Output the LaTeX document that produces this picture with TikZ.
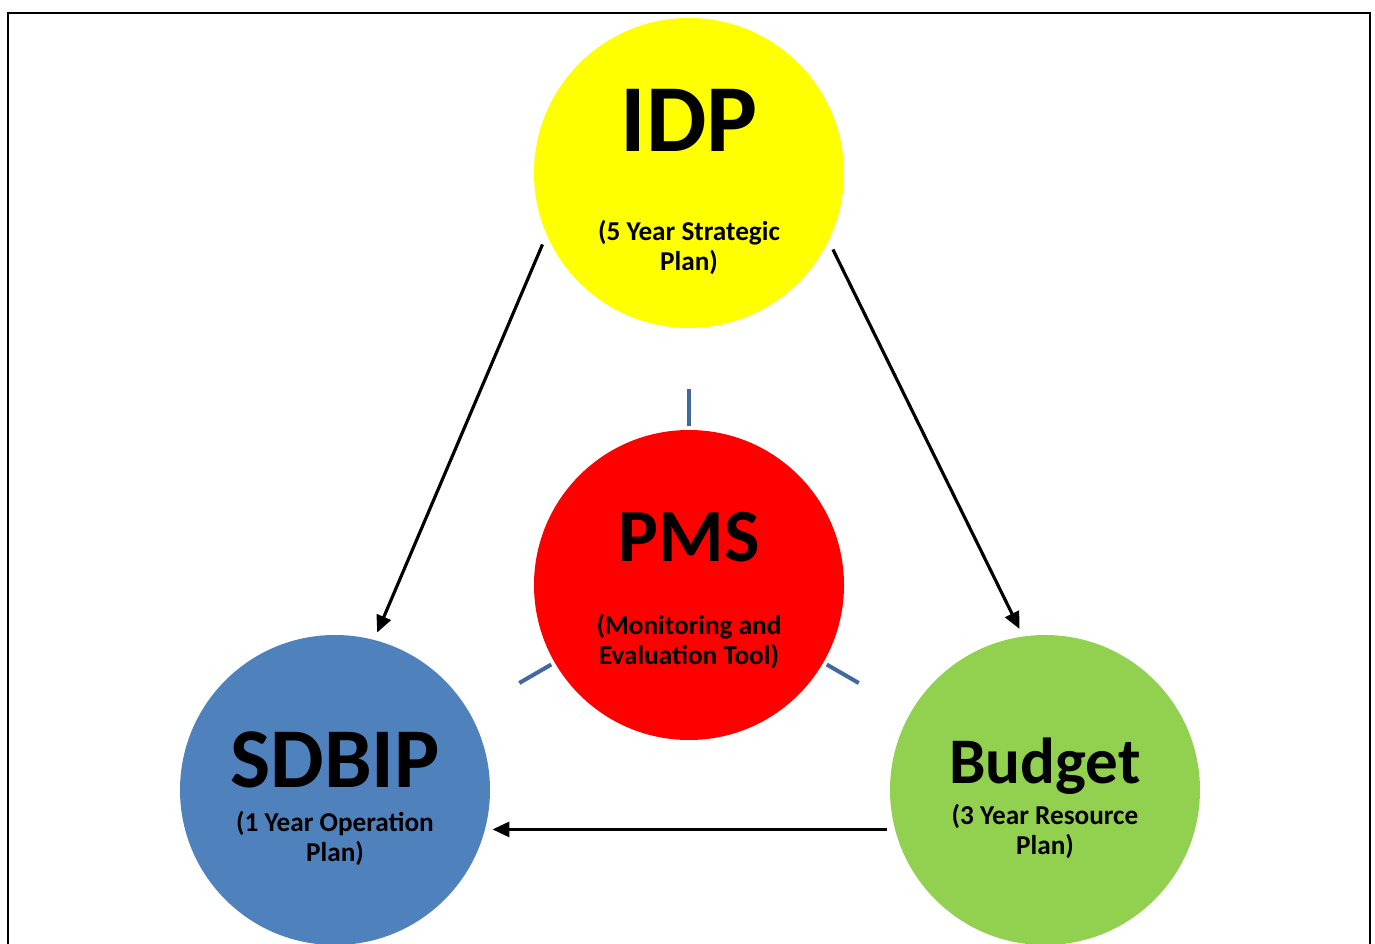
\documentclass[tikz,border=0pt]{standalone}
\usepackage{fontspec}
\setmainfont{Carlito}
\usetikzlibrary{arrows.meta}
\definecolor{idpColor}{HTML}{FFFF00}
\definecolor{pmsColor}{HTML}{FF0000}
\definecolor{sdbipColor}{HTML}{4F81BD}
\definecolor{budgetColor}{HTML}{92D050}
\definecolor{spokeColor}{HTML}{41699D}
\tikzset{
	plan/.style={circle, fill=#1, minimum size=6.2cm, inner sep=0, outer sep=0.16cm},
	heading/.style={font=\fontsize{#1}{#1}\selectfont\bfseries, anchor=base, inner sep=0},
	sub/.style={font=\fontsize{15.5}{16.8}\selectfont\bfseries, align=center, anchor=base, inner sep=0},
	flow/.style={-{Triangle[length=0.34cm,width=0.3cm]}, line width=1.8pt},
	spoke/.style={draw=spokeColor, line width=2.3pt}
}

\begin{document}
\begin{tikzpicture}
	\path[use as bounding box, clip] (0,0) rectangle (27.5,-18.88);
	\draw[line width=1.4pt] (0.16,-19.2) -- (0.16,-0.26) -- (27.40,-0.26) -- (27.40,-19.2);
	
	\node[plan=idpColor] (idp) at (13.78,-3.46) {};
	\node[plan=pmsColor] (pms) at (13.78,-11.70) {};
	\node[plan=sdbipColor] (sdbip) at (6.70,-15.80) {};
	\node[plan=budgetColor] (budget) at (20.90,-15.80) {};
	
	\node[heading=54.6] (idptitle) at (13.78,-3.04) {IDP};
	\node[sub] (idpsub) at (13.78,-5.40) {(5 Year Strategic\\Plan)};
	
	\node[heading=42.7] (pmstitle) at (13.78,-11.22) {PMS};
	\node[sub] (pmssub) at (13.78,-13.28) {(Monitoring and\\Evaluation Tool)};
	
	\node[heading=48.4] (sdbiptitle) at (6.70,-15.74) {SDBIP};
	\node[sub] (sdbipsub) at (6.70,-17.22) {(1 Year Operation\\Plan)};
	
	\node[heading=37] (budgettitle) at (20.90,-15.66) {Budget};
	\node[sub] (budgetsub) at (20.90,-17.08) {(3 Year Resource\\Plan)};
	
	\draw[flow] (idp.206.6) -- (sdbip.75.5);
	\draw[flow] (idp.332.4) -- (budget.99);
	\draw[flow] (budget.194.3) -- (sdbip.345.7 |- budget.194.3);
	
	\draw[spoke] ([shift={(90:3.18)}]pms.center) -- ([shift={(90:3.92)}]pms.center);
	\draw[spoke] ([shift={(210:3.18)}]pms.center) -- ([shift={(210:3.92)}]pms.center);
	\draw[spoke] ([shift={(330:3.18)}]pms.center) -- ([shift={(330:3.92)}]pms.center);
\end{tikzpicture}
\end{document}
